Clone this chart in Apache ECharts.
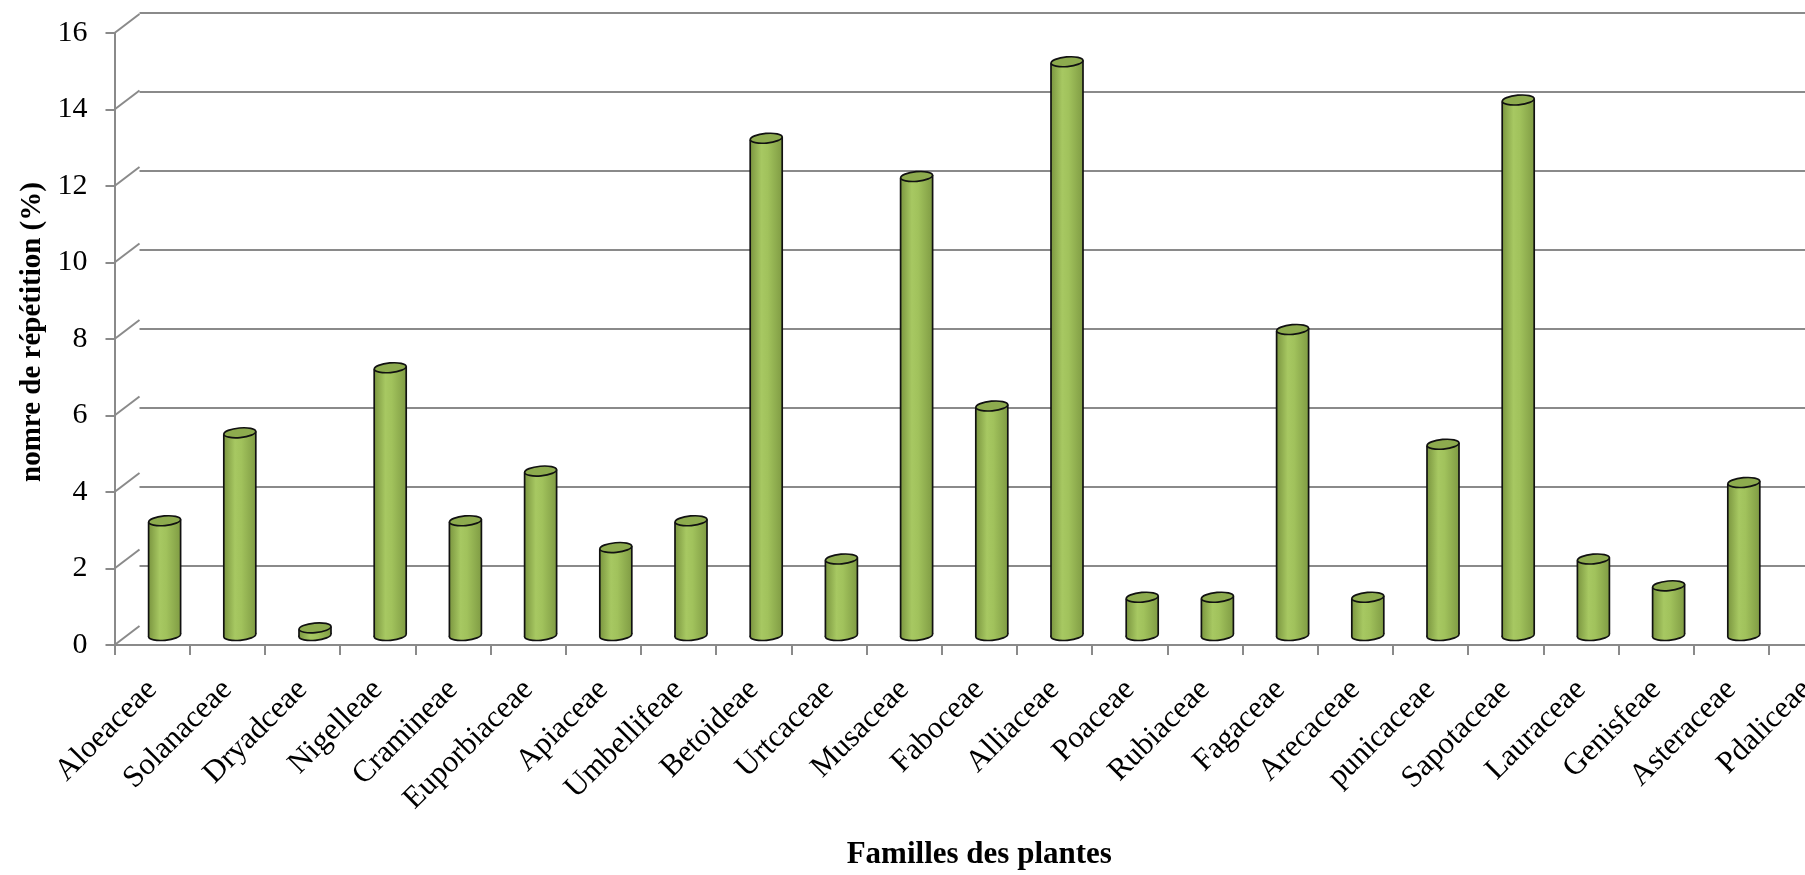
<!DOCTYPE html>
<html>
<head>
<meta charset="utf-8">
<style>
  html, body { margin: 0; padding: 0; background: #ffffff; overflow: hidden; }
  /* the plot runs past the right edge of the window, so the last family is cut off */
  #chart { width: 1850px; height: 875px; }
</style>
<script src="https://cdn.jsdelivr.net/npm/echarts@6/dist/echarts.min.js"></script>
</head>
<body>
<div id="chart"></div>
<script>
// Plant families and their repetition percentage
const familles = [
  'Aloeaceae', 'Solanaceae', 'Dryadceae', 'Nigelleae', 'Cramineae', 'Euporbiaceae',
  'Apiaceae', 'Umbellifeae', 'Betoideae', 'Urtcaceae', 'Musaceae', 'Faboceae',
  'Alliaceae', 'Poaceae', 'Rubiaceae', 'Fagaceae', 'Arecaceae', 'punicaceae',
  'Sapotaceae', 'Lauraceae', 'Genisfeae', 'Asteraceae', 'Pdaliceae'
];
const repetition = [
  3, 5.3, 0.2, 7, 3, 4.3,
  2.3, 3, 13, 2, 12, 6,
  15, 1, 1, 8, 1, 5,
  14, 2, 1.3, 4, 0
];
// Value axis ticks (0 to 16, step 2)
const yTicks = [0, 2, 4, 6, 8, 10, 12, 14, 16];

const FONT = "'Liberation Serif', 'Times New Roman', serif";
const GRID_COLOR = '#8a8a8a';
const LINE_W = 2;
// depth of the 3D box (back wall shift)
const DEPTH_X = 25, DEPTH_Y = -19;

const chart = echarts.init(document.getElementById('chart'), null, { renderer: 'canvas' });

const catWidth = 75.2;
const gridLeft = 114.5, gridTop = 33, gridHeight = 630;
const gridWidth = catWidth * familles.length;

// side wall: diagonal from each front tick to the back wall
function renderWall(params, api) {
  const v = api.value(0);
  const p = api.coord([0, v]);
  const x0 = params.coordSys.x;
  return {
    type: 'line',
    shape: { x1: x0, y1: p[1], x2: x0 + DEPTH_X, y2: p[1] + DEPTH_Y },
    style: { stroke: GRID_COLOR, lineWidth: LINE_W },
    silent: true
  };
}

// cylinder bar drawn at mid depth
function renderCylinder(params, api) {
  const i = api.value(0);
  const v = api.value(1);
  if (!(v > 0)) return null;
  const base = api.coord([i, 0]);
  const top = api.coord([i, v]);
  const cx = base[0] + DEPTH_X / 2;
  const yB = base[1] + DEPTH_Y / 2;
  const yT = top[1] + DEPTH_Y / 2;
  const rx = 16, ry = 4.8;
  const rot = 0.09;
  const dy = rx * Math.sin(rot);
  const body = new echarts.graphic.LinearGradient(0, 0, 1, 0, [
    { offset: 0, color: '#7b9640' },
    { offset: 0.35, color: '#a7c862' },
    { offset: 0.55, color: '#a1c25c' },
    { offset: 1, color: '#809c44' }
  ]);
  return {
    type: 'group',
    children: [
      {
        type: 'ellipse',
        shape: { cx: cx, cy: yB, rx: rx, ry: ry },
        rotation: rot, originX: cx, originY: yB,
        style: { fill: body, stroke: '#111', lineWidth: 1.7 }
      },
      {
        type: 'polygon',
        shape: { points: [
          [cx - rx, yT + dy], [cx + rx, yT - dy],
          [cx + rx, yB - dy], [cx - rx, yB + dy]
        ] },
        style: { fill: body }
      },
      {
        type: 'line',
        shape: { x1: cx - rx, y1: yT + dy, x2: cx - rx, y2: yB + dy },
        style: { stroke: '#111', lineWidth: 1.7 }
      },
      {
        type: 'line',
        shape: { x1: cx + rx, y1: yT - dy, x2: cx + rx, y2: yB - dy },
        style: { stroke: '#111', lineWidth: 1.7 }
      },
      {
        type: 'ellipse',
        shape: { cx: cx, cy: yT, rx: rx, ry: ry },
        rotation: rot, originX: cx, originY: yT,
        style: { fill: '#8dab4e', stroke: '#111', lineWidth: 1.7 }
      }
    ]
  };
}

const option = {
  backgroundColor: '#ffffff',
  animation: false,
  grid: [
    { left: gridLeft, top: gridTop, width: gridWidth, height: gridHeight, containLabel: false },
    { left: gridLeft + DEPTH_X, top: gridTop + DEPTH_Y - 1, width: gridWidth, height: gridHeight + 2, containLabel: false }
  ],
  xAxis: [
    {
      type: 'category',
      gridIndex: 0,
      data: familles,
      boundaryGap: true,
      axisLine: { show: true, lineStyle: { color: GRID_COLOR, width: LINE_W } },
      axisTick: { show: true, alignWithLabel: false, length: 10, lineStyle: { color: GRID_COLOR, width: LINE_W } },
      axisLabel: {
        interval: 0, rotate: 45, margin: 40,
        fontFamily: FONT, fontSize: 31, color: '#000'
      },
      name: 'Familles des plantes',
      nameLocation: 'middle',
      nameGap: 194,
      nameTextStyle: { fontFamily: FONT, fontSize: 31, fontWeight: 'bold', color: '#000' }
    },
    {
      type: 'category',
      gridIndex: 1,
      data: familles,
      show: false
    }
  ],
  yAxis: [
    {
      type: 'value',
      gridIndex: 0,
      min: 0, max: 16, interval: 2,
      axisLine: { show: true, lineStyle: { color: GRID_COLOR, width: LINE_W } },
      axisTick: { show: true, length: 9, lineStyle: { color: GRID_COLOR, width: LINE_W } },
      axisLabel: { margin: 27, fontFamily: FONT, fontSize: 30, color: '#000' },
      splitLine: { show: false },
      name: 'nomre de répétition (%)',
      nameLocation: 'middle',
      nameRotate: 90,
      nameGap: 64,
      nameTextStyle: { fontFamily: FONT, fontSize: 29, fontWeight: 'bold', color: '#000', padding: [0, 0, 0, 14] }
    },
    {
      type: 'value',
      gridIndex: 1,
      min: 0, max: 16, interval: 2,
      axisLine: { show: false },
      axisTick: { show: false },
      axisLabel: { show: false },
      splitLine: { show: true, lineStyle: { color: GRID_COLOR, width: LINE_W } }
    }
  ],
  series: [
    {
      type: 'custom',
      name: 'mur',
      xAxisIndex: 0, yAxisIndex: 0,
      data: yTicks.map(t => [t]),
      encode: { y: 0 },
      renderItem: renderWall,
      silent: true,
      z: 1
    },
    {
      type: 'custom',
      name: 'repetition',
      xAxisIndex: 0, yAxisIndex: 0,
      data: repetition.map((v, i) => [i, v]),
      encode: { x: 0, y: 1 },
      renderItem: renderCylinder,
      clip: false,
      z: 5
    }
  ]
};

chart.setOption(option);
</script>
</body>
</html>
